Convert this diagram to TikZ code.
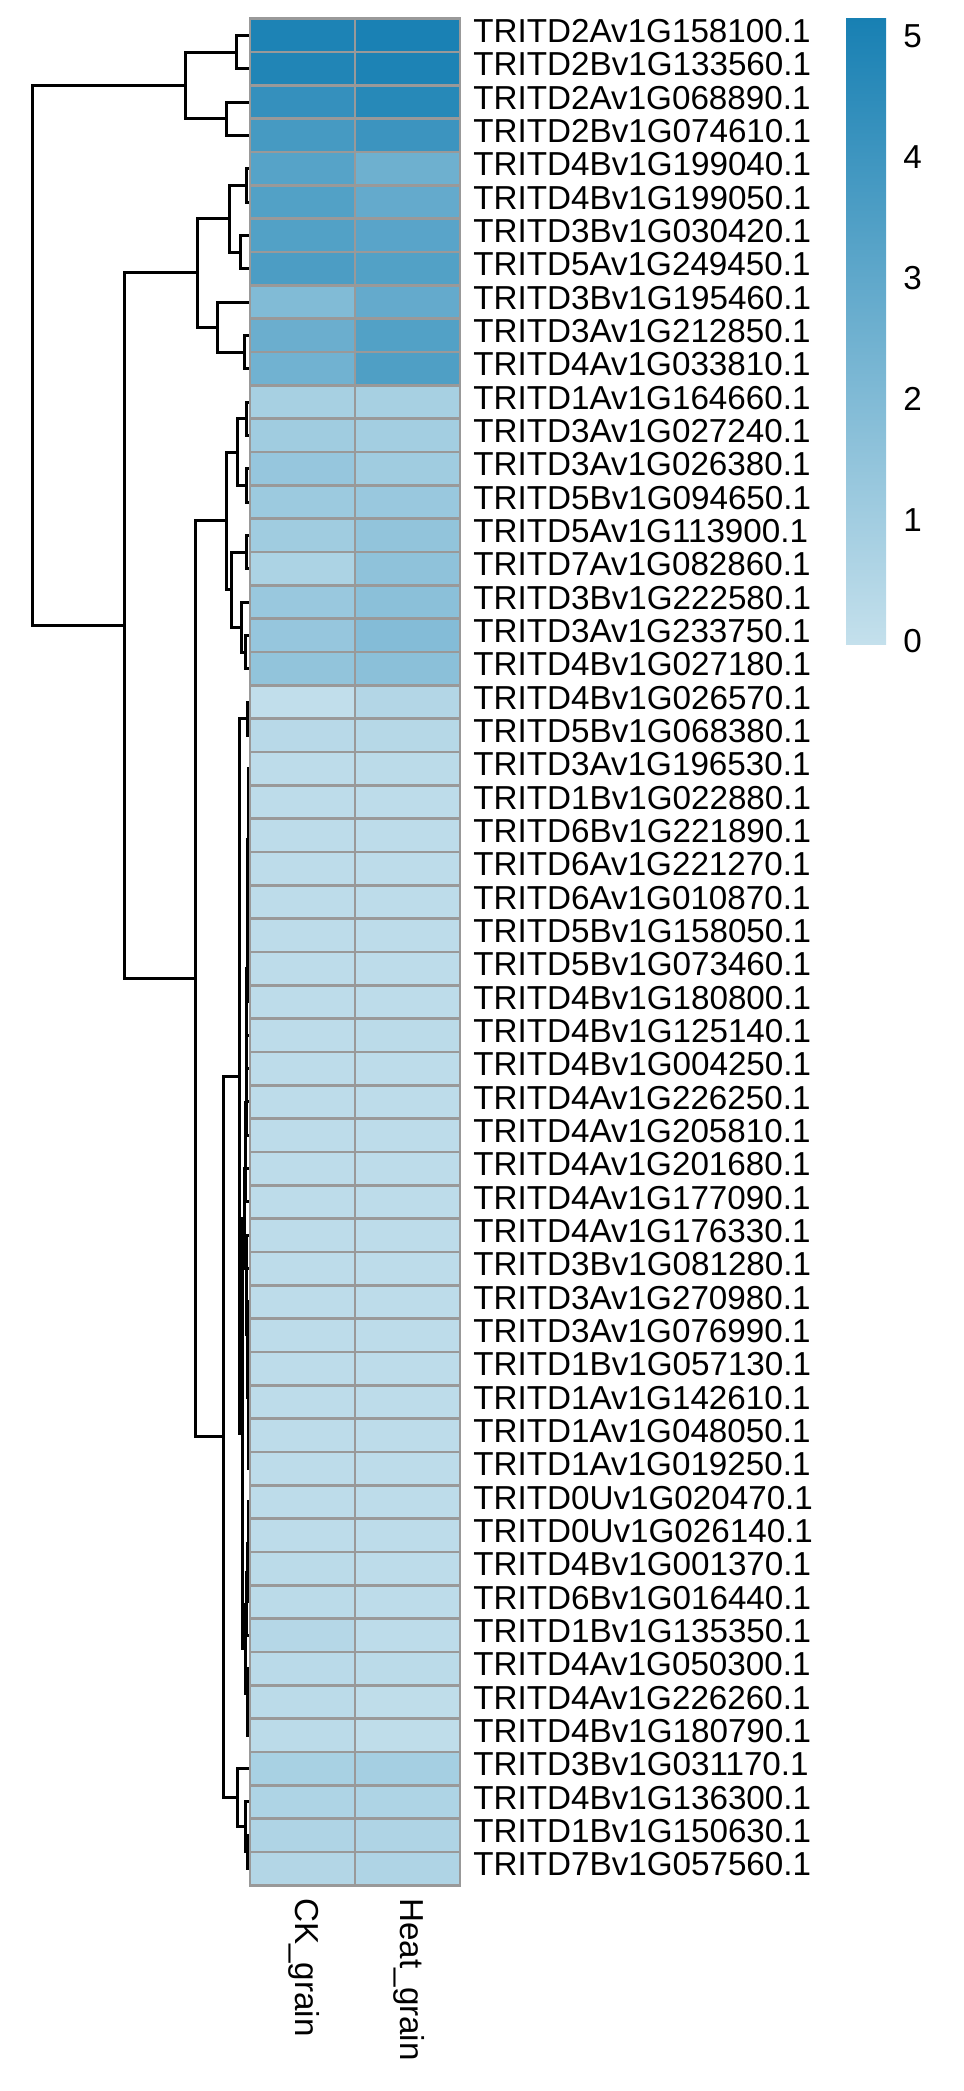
\documentclass[tikz,border=0pt]{standalone}
\usepackage{fontspec}
\setmainfont{Liberation Sans}
\usepackage{tikz}
\usetikzlibrary{calc}

\definecolor{hmlow}{HTML}{C4E0EC}
\definecolor{hmhigh}{HTML}{1880B3}
\definecolor{cellgrey}{HTML}{999999}

\tikzset{
  dendro/.style={line width=1.5pt},
  cell/.style={draw=cellgrey, line width=1.25pt},
  rowlab/.style={anchor=west, inner sep=0pt, font=\fontsize{16.6}{18}\selectfont, text height=0.716em, text depth=0pt},
  collab/.style={rowlab, rotate=-90},
  barlab/.style={rowlab}
}

% join two branches at height x
\newcommand{\dmerge}[4]{%
  \path let \p1=(#2), \p2=(#3) in coordinate (#1) at (#4*0.5pt, {0.5*\y1+0.5*\y2});
  \draw[dendro] (#2) -- (#2 -| #1) -- (#3 -| #1) -- (#3);
}

\begin{document}
\begin{tikzpicture}[x=0.5pt, y=-0.5pt]
  \useasboundingbox (0,0) rectangle (963,2091);
  % Place leaves
  \foreach \i in {1,...,56}
    {\pgfmathsetmacro\yy{18.75+33.33*(\i-0.5)}
     \coordinate (r\i) at (250,\yy);}
  % Draw dendrogram
  \dmerge{m1}{r1}{r2}{236.7}
  \dmerge{m2}{r3}{r4}{226.7}
  \dmerge{ga}{m1}{m2}{185.7}
  \dmerge{m3}{r5}{r6}{246.7}
  \dmerge{m4}{r7}{r8}{240}
  \dmerge{m5}{m3}{m4}{229}
  \dmerge{m6}{r10}{r11}{244.3}
  \dmerge{m7}{r9}{m6}{217.3}
  \dmerge{gb}{m5}{m7}{197.7}
  \dmerge{m8}{r12}{r13}{246.7}
  \dmerge{m9}{r14}{r15}{246.7}
  \dmerge{m10}{m8}{m9}{237.3}
  \dmerge{m11}{r16}{r17}{246.7}
  \dmerge{m12}{r19}{r20}{245.7}
  \dmerge{m13}{r18}{m12}{241}
  \dmerge{m14}{m11}{m13}{231.7}
  \dmerge{gc}{m10}{m14}{226.7}
  \dmerge{m15}{r21}{r22}{247}
  \coordinate (u23) at (r23);
  \foreach \k [remember=\k as \prev (initially 23)] in {24,...,36}
    {\pgfmathsetmacro\cx{248.8-0.275*(\k-24)}
     \dmerge{u\k}{u\prev}{r\k}{\cx}}
  \coordinate (v44) at (r44);
  \foreach \k [remember=\k as \nxt (initially 44)] in {43,42,...,37}
    {\pgfmathsetmacro\cx{248.8-0.4*(43-\k)}
     \dmerge{v\k}{r\k}{v\nxt}{\cx}}
  \dmerge{m16}{u36}{v37}{244}
  \dmerge{w46}{r45}{r46}{248.3}
  \dmerge{w47}{w46}{r47}{248}
  \dmerge{w48}{w47}{r48}{247.7}
  \dmerge{m17}{w48}{r49}{246}
  \dmerge{m18}{r51}{r52}{247.7}
  \dmerge{m19}{r50}{m18}{247}
  \dmerge{m20}{m17}{m19}{245}
  \dmerge{m21}{m16}{m20}{242.3}
  \dmerge{m22}{m15}{m21}{239}
  \dmerge{m23}{r55}{r56}{247.7}
  \dmerge{m24}{r54}{m23}{245}
  \dmerge{m25}{r53}{m24}{237.3}
  \dmerge{gd}{m22}{m25}{223.3}
  \dmerge{ge}{gc}{gd}{195}
  \dmerge{gf}{gb}{ge}{124}
  \dmerge{root}{ga}{gf}{32.3}
  % Heatmap cells
  \foreach \i/\ck/\ht in {1/97/99, 2/95/97, 3/83/91, 4/73/79, 5/64/50, 6/66/56,
      7/66/62, 8/70/66, 9/39/56, 10/52/66, 11/48/68, 12/17/17, 13/21/19, 14/27/21,
      15/23/25, 16/21/29, 17/14/31, 18/25/33, 19/27/37, 20/29/33, 21/2/10, 22/7/8,
      23/4/5, 24/4/4, 25/4/4, 26/4/4, 27/4/4, 28/4/4, 29/4/4, 30/4/4, 31/4/5,
      32/4/4, 33/4/4, 34/4/4, 35/4/4, 36/4/4, 37/4/4, 38/4/4, 39/4/4, 40/4/4,
      41/4/4, 42/4/4, 43/4/4, 44/4/4, 45/4/4, 46/4/4, 47/5/4, 48/5/4, 49/9/4,
      50/6/5, 51/5/3, 52/5/3, 53/16/18, 54/13/13, 55/12/12, 56/10/12}
    {\pgfmathsetmacro\yt{18.75+33.33*(\i-1)}
     \pgfmathsetmacro\yb{\yt+33.33}
     \path[cell, fill=hmhigh!\ck!hmlow] (250,\yt) rectangle (355,\yb);
     \path[cell, fill=hmhigh!\ht!hmlow] (355,\yt) rectangle (460,\yb);}
  % Row labels
  \foreach \lab [count=\i] in {TRITD2Av1G158100.1, TRITD2Bv1G133560.1,
      TRITD2Av1G068890.1, TRITD2Bv1G074610.1, TRITD4Bv1G199040.1,
      TRITD4Bv1G199050.1, TRITD3Bv1G030420.1, TRITD5Av1G249450.1,
      TRITD3Bv1G195460.1, TRITD3Av1G212850.1, TRITD4Av1G033810.1,
      TRITD1Av1G164660.1, TRITD3Av1G027240.1, TRITD3Av1G026380.1,
      TRITD5Bv1G094650.1, TRITD5Av1G113900.1, TRITD7Av1G082860.1,
      TRITD3Bv1G222580.1, TRITD3Av1G233750.1, TRITD4Bv1G027180.1,
      TRITD4Bv1G026570.1, TRITD5Bv1G068380.1, TRITD3Av1G196530.1,
      TRITD1Bv1G022880.1, TRITD6Bv1G221890.1, TRITD6Av1G221270.1,
      TRITD6Av1G010870.1, TRITD5Bv1G158050.1, TRITD5Bv1G073460.1,
      TRITD4Bv1G180800.1, TRITD4Bv1G125140.1, TRITD4Bv1G004250.1,
      TRITD4Av1G226250.1, TRITD4Av1G205810.1, TRITD4Av1G201680.1,
      TRITD4Av1G177090.1, TRITD4Av1G176330.1, TRITD3Bv1G081280.1,
      TRITD3Av1G270980.1, TRITD3Av1G076990.1, TRITD1Bv1G057130.1,
      TRITD1Av1G142610.1, TRITD1Av1G048050.1, TRITD1Av1G019250.1,
      TRITD0Uv1G020470.1, TRITD0Uv1G026140.1, TRITD4Bv1G001370.1,
      TRITD6Bv1G016440.1, TRITD1Bv1G135350.1, TRITD4Av1G050300.1,
      TRITD4Av1G226260.1, TRITD4Bv1G180790.1, TRITD3Bv1G031170.1,
      TRITD4Bv1G136300.1, TRITD1Bv1G150630.1, TRITD7Bv1G057560.1}
    {\node[rowlab] (lab\i) at (473,{18.75+33.33*(\i-0.5)}) {\lab};}
  % Column labels
  \node[collab] (ck) at (302.5,1898) {CK\_grain};
  \node[collab] (heat) at (407.5,1898) {Heat\_grain};
  % Colour bar
  \shade[bottom color=hmlow, top color=hmhigh] (846,18.75) rectangle (886,644);
  \foreach \v in {0,...,5}
    {\node[barlab] (tick\v) at (903,{645-121*\v}) {\v};}
\end{tikzpicture}
\end{document}
